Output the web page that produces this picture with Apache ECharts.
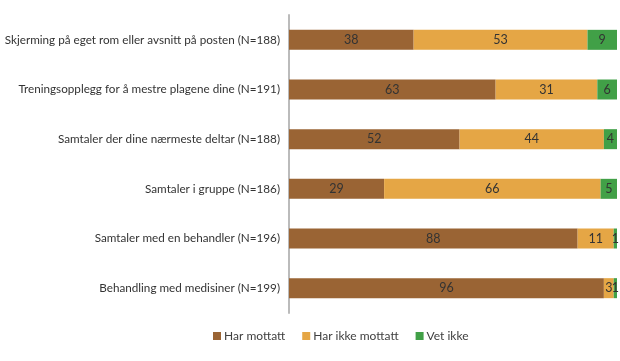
<!DOCTYPE html>
<html><head><meta charset="utf-8">
<script src="https://cdn.jsdelivr.net/npm/echarts@6/dist/echarts.min.js"></script>
<style>html,body{margin:0;padding:0;background:#fff}#c{width:620px;height:361px}</style>
</head><body><div id="c"></div>
<script>
var categories = [
  "Skjerming på eget rom eller avsnitt på posten (N=188)",
  "Treningsopplegg for å mestre plagene dine (N=191)",
  "Samtaler der dine nærmeste deltar (N=188)",
  "Samtaler i gruppe (N=186)",
  "Samtaler med en behandler (N=196)",
  "Behandling med medisiner (N=199)"
];
var seriesNames = ["Har mottatt", "Har ikke mottatt", "Vet ikke"];
var harMottatt = [38, 63, 52, 29, 88, 96];
var harIkkeMottatt = [53, 31, 44, 66, 11, 3];
var vetIkke = [9, 6, 4, 5, 1, 1];
var colors = ["#9A6434", "#E5A645", "#41A047"];
var values = [harMottatt, harIkkeMottatt, vetIkke];
var font = "Lato, 'Open Sans', sans-serif";
var chart = echarts.init(document.getElementById('c'));
chart.setOption({
  animation: false,
  textStyle: {fontFamily: font},
  grid: {left: 289, right: 3, top: 15, bottom: 48, containLabel: false, outerBoundsMode: 'none'},
  legend: {
    top: 330, left: 213, itemWidth: 8, itemHeight: 8, itemGap: 17,
    icon: 'rect', padding: 0,
    textStyle: {fontFamily: font, fontSize: 12, color: '#404040', padding: [0, 0, 0, -2]},
    data: seriesNames
  },
  xAxis: {type: 'value', min: 0, max: 100, show: false},
  yAxis: {
    type: 'category', inverse: true, data: categories,
    axisLine: {show: true, lineStyle: {color: '#BBBBBB', width: 2}},
    axisTick: {show: false},
    axisLabel: {fontFamily: font, fontSize: 11.7, color: '#333', margin: 9}
  },
  series: values.map(function (v, i) {
    return {
      name: seriesNames[i], type: 'bar', stack: 'total', data: v,
      barWidth: 20,
      itemStyle: {color: colors[i]},
      label: {show: true, position: 'inside', fontFamily: font, fontSize: 12.5, color: '#333'}
    };
  })
});
</script></body></html>
